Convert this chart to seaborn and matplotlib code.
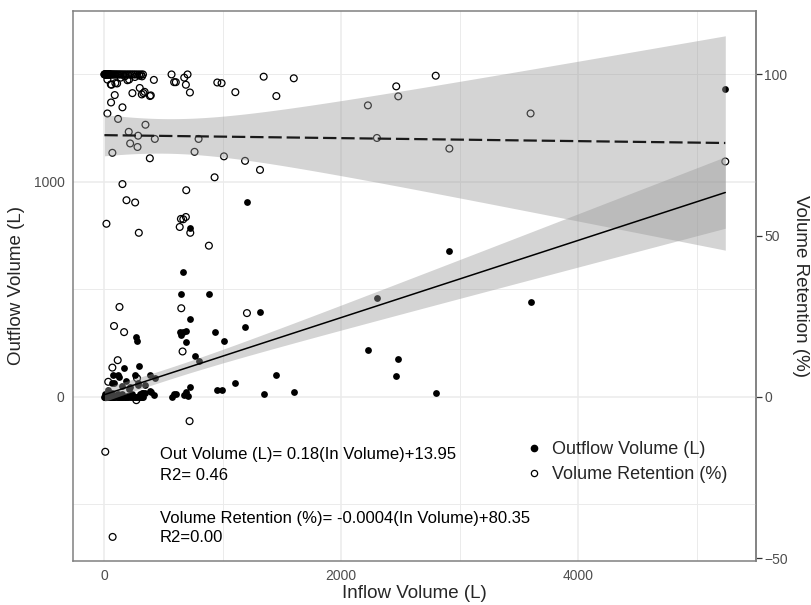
import numpy as np
import pandas as pd
import matplotlib
matplotlib.use('Agg')
import matplotlib.pyplot as plt
import seaborn as sns
from matplotlib.lines import Line2D
from matplotlib.ticker import FixedLocator

sns.set_style('white')
plt.rcParams['font.family'] = ['Liberation Sans', 'DejaVu Sans']

# events: inflow (L), outflow (L), retention (%)
inflow = [
    5239, 3597, 2912, 2797, 2481, 2464, 2301, 2225, 1600, 1453,
    1346, 1315, 1205, 1189, 1107, 1011, 991, 955, 932, 884,
    797, 763, 727, 724, 721, 704, 693, 690, 676, 662,
    651, 690, 668, 648, 638, 605, 591, 569,
    428, 386, 349, 420, 394, 387, 342, 332, 318, 301,
    239, 293, 287, 282, 278, 272, 262, 220, 208, 189,
    169, 155, 155, 130, 118, 115, 90, 84, 72, 70,
    70, 59, 35, 28, 20, 10,
    4, 9, 15, 21, 27, 33, 40, 47, 54, 62,
    70, 78, 87, 96, 106, 116, 127, 138, 150, 163,
    176, 190, 204, 218, 232, 247, 262, 278, 295, 312, 328,
    3, 7, 12, 18, 24, 30, 37, 44, 51,
    28, 57, 63, 95, 110, 140, 175, 197, 211, 260, 300, 320,
]
outflow = [
    1431, 443, 680, 17, 175, 98, 462, 220, 25, 104,
    12, 395, 905, 324, 67, 262, 30, 33, 302, 479,
    167, 191, 363, 45, 786, 4, 257, 22, 7, 580,
    479, 305, 300, 290, 302, 15, 14, 2,
    88, 102, 54, 7, 25, 26, 18, 19, 20, 13,
    14, 144, 55, 63, 262, 278, 104, 47, 37, 74,
    135, 53, 16, 94, 16, 102, 6, 66, 103, 64,
    17, 5, 33, 3, 9, 12,
    0, 0, 0, 0, 0, 0, 0, 0, 0, 0,
    0, 0, 0, 0, 0, 0, 0, 0, 0, 0,
    0, 0, 0, 0, 0, 0, 0, 0, 0, 0, 0,
    0, 0, 0, 0, 0, 0, 0, 0, 0,
    0.5, 1.8, 2.0, 2.5, 3.0, 1.5, 1.0, 3.5, 3.4, 2.0, 1.0, 2.0,
]
retention = [
    73.0, 87.9, 77.0, 99.6, 93.2, 96.3, 80.3, 90.4, 98.8, 93.3,
    99.3, 70.4, 26.0, 73.2, 94.5, 74.6, 97.3, 97.5, 68.1, 46.9,
    80.0, 76.0, 50.9, 94.4, -7.5, 100.0, 64.1, 96.8, 99.0, 14.1,
    27.5, 55.8, 55.1, 55.2, 52.7, 97.6, 97.6, 100.0,
    80.0, 74.0, 84.4, 98.3, 93.5, 93.3, 94.6, 94.2, 93.8, 95.8,
    94.2, 50.9, 81.0, 77.5, 5.8, -1.0, 60.3, 78.6, 82.2, 61.0,
    20.1, 66.0, 89.8, 27.9, 86.2, 11.4, 93.6, 22.0, -43.4, 9.1,
    75.7, 91.3, 4.7, 87.9, 53.7, -17.0,
    100, 100, 100, 100, 100, 100, 100, 100, 100, 100,
    100, 100, 100, 100, 100, 100, 100, 100, 100, 100,
    100, 100, 100, 100, 100, 100, 100, 100, 100, 100, 100,
    100, 100, 100, 100, 100, 100, 100, 100, 100,
    98.4, 96.9, 96.8, 97.3, 97.2, 99.0, 99.4, 98.2, 98.4, 99.2, 99.6, 99.4,
]

# secondary axis: retention (%) = outflow axis / 15
SCALE = 15

df = pd.DataFrame({'inflow': inflow, 'outflow': outflow, 'retention': retention})
df['retention_scaled'] = df['retention'] * SCALE


def lm_band(x, y, grid, t=1.98):
    # least squares line with a 95% confidence band (like geom_smooth(method='lm'))
    x = np.asarray(x, float)
    y = np.asarray(y, float)
    slope, icpt = np.polyfit(x, y, 1)
    resid = y - (icpt + slope * x)
    n = len(x)
    s = np.sqrt((resid ** 2).sum() / (n - 2))
    sxx = ((x - x.mean()) ** 2).sum()
    fit = icpt + slope * grid
    se = s * np.sqrt(1 / n + (grid - x.mean()) ** 2 / sxx)
    return fit, fit - t * se, fit + t * se


grid = np.linspace(df['inflow'].min(), df['inflow'].max(), 200)
out_fit, out_lo, out_hi = lm_band(df['inflow'], df['outflow'], grid)
ret_fit, ret_lo, ret_hi = lm_band(df['inflow'], df['retention_scaled'], grid)

W, H = 811, 605
fig = plt.figure(figsize=(W / 100, H / 100), dpi=100)
ax = fig.add_axes([73 / W, 44 / H, 683 / W, 550 / H])

# points
sns.scatterplot(data=df, x='inflow', y='outflow', ax=ax, color='black',
                s=24, linewidth=0, zorder=3)
sns.scatterplot(data=df, x='inflow', y='retention_scaled', ax=ax, color='black',
                edgecolor='black', s=24, linewidth=0.9, zorder=3)
ax.collections[-1].set_facecolor('none')

# fitted lines with 95% bands (drawn over the points, as in the original)
ax.fill_between(grid, out_lo, out_hi, color='#999999', alpha=0.42, lw=0, zorder=4)
ax.fill_between(grid, ret_lo, ret_hi, color='#999999', alpha=0.42, lw=0, zorder=4)
sns.lineplot(x=grid, y=out_fit, ax=ax, color='black', lw=1.1, zorder=5)
sns.lineplot(x=grid, y=ret_fit, ax=ax, color='#1a1a1a', lw=1.6,
             dashes=False, zorder=5).lines[-1].set_dashes([6, 2.2])

ax.set_xlim(-262, 5498)
ax.set_ylim(-763, 1795)
ax.set_xticks([0, 2000, 4000])
ax.xaxis.set_minor_locator(FixedLocator([1000, 3000, 5000]))
ax.set_yticks([0, 1000])
ax.yaxis.set_minor_locator(FixedLocator([-500, 500, 1500]))
ax.grid(which='major', color='#EBEBEB', lw=1.1)
ax.grid(which='minor', color='#EBEBEB', lw=0.7)
ax.set_axisbelow(True)
ax.tick_params(which='major', length=4, width=0.9, color='#333333',
               labelcolor='#4D4D4D', labelsize=10, pad=2)
ax.tick_params(which='minor', length=0)
for sp in ax.spines.values():
    sp.set_color('#808080')
    sp.set_linewidth(1.1)
ax.set_xlabel('')
ax.set_ylabel('')

sec = ax.secondary_yaxis('right', functions=(lambda v: v / SCALE, lambda v: v * SCALE))
sec.set_yticks([-50, 0, 50, 100])
sec.tick_params(length=4, width=0.9, color='#333333', labelcolor='#4D4D4D',
                labelsize=10, pad=2)
sec.spines['right'].set_color('#808080')
sec.spines['right'].set_linewidth(1.1)

# axis titles
fig.text(414 / W, 1 - 593 / H, 'Inflow Volume (L)', ha='center', va='center', fontsize=13.5)
fig.text(17 / W, 1 - 286 / H, 'Outflow Volume (L)', ha='center', va='center',
         rotation=90, fontsize=13.5)
fig.text(800 / W, 1 - 286 / H, 'Volume Retention (%)', ha='center', va='center',
         rotation=-90, fontsize=13.5)

# regression annotations
ann = [
    (454, 'Out Volume (L)= 0.18(In Volume)+13.95'),
    (475, 'R2= 0.46'),
    (518, 'Volume Retention (%)= -0.0004(In Volume)+80.35'),
    (538, 'R2=0.00'),
]
for ypx, txt in ann:
    fig.text(160 / W, 1 - ypx / H, txt, ha='left', va='center', fontsize=12, color='black')

handles = [
    Line2D([], [], ls='', marker='o', markersize=4.5, color='black'),
    Line2D([], [], ls='', marker='o', markersize=4.5, markerfacecolor='none',
           markeredgecolor='black', markeredgewidth=0.9),
]
fig.legend(handles, ['Outflow Volume (L)', 'Volume Retention (%)'], frameon=False,
           loc='center left', bbox_to_anchor=(520 / W, 1 - 462 / H), fontsize=13,
           handlelength=0.8, handletextpad=0.6, labelspacing=0.45, borderaxespad=0)

fig.savefig('out.png', dpi=100)
